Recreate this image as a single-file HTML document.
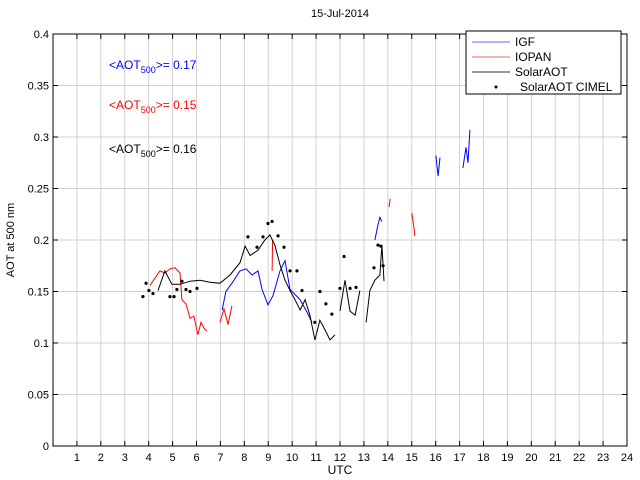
<!DOCTYPE html>
<html><head><meta charset="utf-8"><style>
body{margin:0;background:#fff;}
svg{display:block;font-family:"Liberation Sans",sans-serif;}
</style></head><body>
<svg id="c" width="640" height="480"></svg>
<script>
const xTicks=[1,2,3,4,5,6,7,8,9,10,11,12,13,14,15,16,17,18,19,20,21,22,23,24];
const yTicks=[0,0.05,0.1,0.15,0.2,0.25,0.3,0.35,0.4];
const yTickLabels=["0","0.05","0.1","0.15","0.2","0.25","0.3","0.35","0.4"];
const solarT=[4.39,4.68,4.97,5.31,5.73,6.15,6.56,6.98,7.40,7.82,8.03,8.24,8.57,8.86,9.07,9.28,9.49,9.70,9.91,10.12,10.33,10.54,10.74,10.95,11.16,11.37,11.58,11.79,null,12.0,12.21,12.42,12.63,12.83,null,13.09,13.25,13.46,13.67,13.75,13.84];
const solarV=[.151,.170,.157,.157,.160,.161,.159,.158,.166,.178,.194,.185,.190,.200,.205,.195,.176,.161,.151,.142,.132,.142,.127,.103,.122,.113,.103,.108,null,.131,.161,.131,.127,.151,null,.120,.151,.161,.166,.195,.160];
const iopanT=[4.06,4.26,4.47,4.68,4.89,5.10,5.31,5.39,5.56,5.73,5.89,6.06,6.19,6.35,6.44,null,6.98,7.15,7.32,7.48,null,9.16,9.18,null,14.05,14.1,null,15.0,15.09,15.13];
const iopanV=[.156,.163,.170,.168,.172,.173,.168,.142,.138,.124,.126,.108,.120,.113,.112,null,.120,.133,.118,.136,null,.170,.200,null,.232,.240,null,.226,.212,.204];
const igfT=[7.07,7.23,7.48,7.82,8.07,8.32,8.57,8.74,8.99,9.20,9.49,9.70,9.91,10.33,10.62,10.83,null,13.46,13.59,13.67,13.75,null,16.01,16.1,16.18,null,17.14,17.27,17.35,17.43];
const igfV=[.132,.150,.158,.170,.172,.166,.170,.152,.137,.146,.170,.180,.152,.142,.130,.120,null,.200,.215,.222,.218,null,.282,.262,.280,null,.27,.29,.275,.307];
const cimelT=[3.76,3.89,4.01,4.18,4.89,5.06,5.18,5.39,5.56,5.73,6.02,8.15,8.53,8.78,8.99,9.16,9.41,9.66,9.91,10.2,10.41,10.95,11.16,11.41,11.66,12.0,12.17,12.42,12.67,13.42,13.59,13.71,13.8];
const cimelV=[.145,.158,.151,.148,.145,.145,.152,.160,.152,.150,.153,.203,.193,.203,.216,.218,.204,.193,.170,.170,.151,.120,.150,.138,.128,.153,.184,.153,.154,.173,.195,.194,.175];
const L=53,R=627,T=34,B=446;
const X=t=>L+t*(R-L)/24, Y=v=>B-v*(B-T)/0.4;
const svg=document.getElementById('c');const NS='http://www.w3.org/2000/svg';
function mk(tag,attrs,parent){const e=document.createElementNS(NS,tag);for(const k in attrs)e.setAttribute(k,attrs[k]);(parent||svg).appendChild(e);return e;}
let e=mk('rect',{x:L,y:T,width:R-L,height:B-T,fill:'#fff'});


xTicks.forEach(t=>{
 if(t<24){const g=mk('line',{x1:X(t),x2:X(t),y1:T,y2:B,stroke:'#d0d0d0','stroke-width':1});
 
 }
 mk('line',{x1:X(t),x2:X(t),y1:B,y2:B-5,stroke:'#000'});
 mk('line',{x1:X(t),x2:X(t),y1:T,y2:T+5,stroke:'#000'});
 const tx=mk('text',{x:X(t),y:B+15,'text-anchor':'middle','font-size':11});tx.textContent=t;
 
 
});
yTicks.forEach((v,i)=>{
 if(i>0&&i<yTicks.length-1){const g=mk('line',{x1:L,x2:R,y1:Y(v),y2:Y(v),stroke:'#d0d0d0'});
 
 }
 mk('line',{x1:L,x2:L+5,y1:Y(v),y2:Y(v),stroke:'#000'});
 mk('line',{x1:R,x2:R-5,y1:Y(v),y2:Y(v),stroke:'#000'});
 const tx=mk('text',{x:L-4,y:Y(v)+4,'text-anchor':'end','font-size':11});tx.textContent=yTickLabels[i];
 
 
});
function series(ts,vs,color,name){let d='',pen=false;ts.forEach((t,i)=>{if(t===null){pen=false;return;}d+=(pen?'L':'M')+X(t).toFixed(1)+' '+Y(vs[i]).toFixed(1)+' ';pen=true;});
 const p=mk('path',{d:d,fill:'none',stroke:color,'stroke-width':1});
 
 }
series(igfT,igfV,'#0000ff','igf-line');
series(iopanT,iopanV,'#ff0000','iopan-line');
series(solarT,solarV,'#000','solaraot-line');
cimelT.forEach((t,i)=>{const c=mk('circle',{cx:X(t),cy:Y(cimelV[i]),r:1.6,fill:'#000'});
 
 });
e=mk('rect',{x:L,y:T,width:R-L,height:B-T,fill:'none',stroke:'#000'});


function txt(x,y,s,attrs,name){const t=mk('text',Object.assign({x:x,y:y,'font-size':12},attrs||{}));t.innerHTML=s;
 
 return t;}
txt(340,17,'15-Jul-2014',{'text-anchor':'middle','font-size':11},'chart-title');
txt(340,474,'UTC',{'text-anchor':'middle','font-size':12},'x-axis-title');
txt(0,0,'AOT at 500 nm',{'text-anchor':'middle','font-size':11,transform:'translate(14,240) rotate(-90)'},'y-axis-title');
txt(109,69,'&lt;AOT<tspan font-size="9" dy="4">500</tspan><tspan dy="-4">&gt;= 0.17</tspan>',{fill:'#0000ff'},'igf-mean-annotation');
txt(109,109,'&lt;AOT<tspan font-size="9" dy="4">500</tspan><tspan dy="-4">&gt;= 0.15</tspan>',{fill:'#ff0000'},'iopan-mean-annotation');
txt(109,153,'&lt;AOT<tspan font-size="9" dy="4">500</tspan><tspan dy="-4">&gt;= 0.16</tspan>',{fill:'#000'},'solaraot-mean-annotation');
const lg=mk('g',{});


mk('rect',{x:466,y:31,width:155,height:63,fill:'#fff',stroke:'#000'},lg);
const items=[['IGF','#6666ff'],['IOPAN','#ff6666'],['SolarAOT','#999']];
items.forEach((it,i)=>{const y=42+i*15;mk('line',{x1:472,x2:510,y1:y,y2:y,stroke:it[1],'stroke-width':i==2?2:1},lg);
 const t=mk('text',{x:515,y:y+4,'font-size':12},lg);t.textContent=it[0];
 
 });
mk('circle',{cx:496,cy:87,r:1.5,fill:'#000'},lg);
const t4=mk('text',{x:520,y:91,'font-size':12},lg);t4.textContent='SolarAOT CIMEL';


</script>
</body></html>
